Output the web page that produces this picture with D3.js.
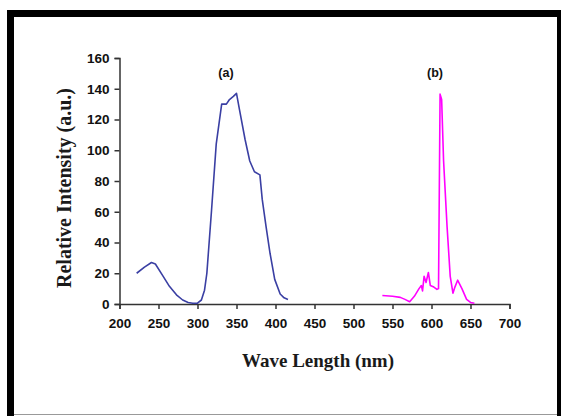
<!DOCTYPE html>
<html>
<head>
<meta charset="utf-8">
<script src="https://cdn.jsdelivr.net/npm/d3@7"></script>
<style>
  body { margin: 0; background: #fff; }
  svg { display: block; }
</style>
</head>
<body>
<script>
'use strict';

// spectrum (a) - blue
const waveA = [222, 232, 241, 246, 256, 264, 273, 281, 288, 294, 300, 305, 309, 312, 318, 324, 331, 337, 341, 346, 350, 354, 361, 367, 373, 380, 383, 388, 393, 399, 406, 411, 416];
const intA  = [20, 24, 27, 26, 18, 11.5, 6, 2.6, 1, 0.5, 0.6, 2.6, 9, 20, 61, 104, 130, 130, 133, 135, 137, 126, 107, 93, 86, 84, 68, 50, 33, 16, 6.5, 4, 3];

// spectrum (b) - magenta
const waveB = [537, 550, 560, 566, 572, 578, 584, 587, 588.5, 590.5, 593, 596, 598.5, 603, 607, 609, 611, 613, 615.5, 620, 624, 627.5, 630, 633.5, 639, 645, 650, 655];
const intB  = [5.5, 5, 4.3, 3, 1.5, 5, 10, 12, 8.5, 18, 14, 20.5, 12, 11, 9.5, 10, 136.5, 133, 93, 50, 18, 7, 11, 15.5, 10, 3, 1, 0.5];

const xTicks = [200, 250, 300, 350, 400, 450, 500, 550, 600, 650, 700];
const yTicks = [0, 20, 40, 60, 80, 100, 120, 140, 160];

const labels = [{ text: '(a)', x: 226 }, { text: '(b)', x: 435 }];

const width = 561, height = 416;

const svg = d3.select('body').append('svg')
  .attr('width', width)
  .attr('height', height);

// outer frame
svg.append('rect')
  .attr('x', 10.5).attr('y', 13.5)
  .attr('width', 550).attr('height', 420)
  .attr('fill', 'none')
  .attr('stroke', '#000')
  .attr('stroke-width', 7);
svg.append('line')
  .attr('x1', 14).attr('x2', 557).attr('y1', 414.5).attr('y2', 414.5)
  .attr('stroke', '#999').attr('stroke-width', 1);

const xScale = d3.scaleLinear().domain([200, 700]).range([119.5, 509.5]);
const yScale = d3.scaleLinear().domain([0, 160]).range([304, 58]);

// axes
const xAxis = d3.axisBottom(xScale).tickValues(xTicks).tickSize(5).tickSizeOuter(5).tickPadding(9);
const yAxis = d3.axisLeft(yScale).tickValues(yTicks).tickSize(5).tickSizeOuter(5).tickPadding(5);

const gx = svg.append('g')
  .attr('transform', 'translate(0,' + yScale(0) + ')')
  .call(xAxis);
const gy = svg.append('g')
  .attr('transform', 'translate(' + xScale(200) + ',0)')
  .call(yAxis);

[gx, gy].forEach(function(g) {
  g.select('.domain').attr('stroke', '#333').attr('stroke-width', 1.5);
  g.selectAll('.tick line').attr('stroke', '#333').attr('stroke-width', 1.5);
  g.selectAll('.tick text')
    .attr('fill', '#111')
    .style('font-family', '"Liberation Sans", Arial, sans-serif')
    .style('font-weight', 'bold')
    .style('font-size', '13.5px');
});

// lines
const lineA = d3.line()
  .x(function(d, i) { return xScale(waveA[i]); })
  .y(function(d) { return yScale(d); });
const lineB = d3.line()
  .x(function(d, i) { return xScale(waveB[i]); })
  .y(function(d) { return yScale(d); });

svg.append('path')
  .datum(intA)
  .attr('d', lineA)
  .attr('fill', 'none')
  .attr('stroke', '#3a3fa3')
  .attr('stroke-width', 1.6)
  .attr('stroke-linejoin', 'round');

svg.append('path')
  .datum(intB)
  .attr('d', lineB)
  .attr('fill', 'none')
  .attr('stroke', '#ff00ff')
  .attr('stroke-width', 1.6)
  .attr('stroke-linejoin', 'round');

// series labels
svg.selectAll('.lbl')
  .data(labels)
  .enter()
  .append('text')
  .attr('class', 'lbl')
  .attr('x', function(d) { return d.x; })
  .attr('y', 77)
  .attr('text-anchor', 'middle')
  .style('font-family', '"Liberation Sans", Arial, sans-serif')
  .style('font-weight', 'bold')
  .style('font-size', '12.5px')
  .attr('fill', '#111')
  .text(function(d) { return d.text; });

// axis titles
svg.append('text')
  .attr('x', 318)
  .attr('y', 367)
  .attr('text-anchor', 'middle')
  .style('font-family', '"Liberation Serif", "Times New Roman", serif')
  .style('font-weight', 'bold')
  .style('font-size', '19px')
  .attr('fill', '#1a1a1a')
  .text('Wave Length (nm)');

svg.append('text')
  .attr('transform', 'translate(71,188)rotate(-90)')
  .attr('text-anchor', 'middle')
  .style('font-family', '"Liberation Serif", "Times New Roman", serif')
  .style('font-weight', 'bold')
  .style('font-size', '20px')
  .attr('fill', '#1a1a1a')
  .text('Relative Intensity (a.u.)');
</script>
</body>
</html>
